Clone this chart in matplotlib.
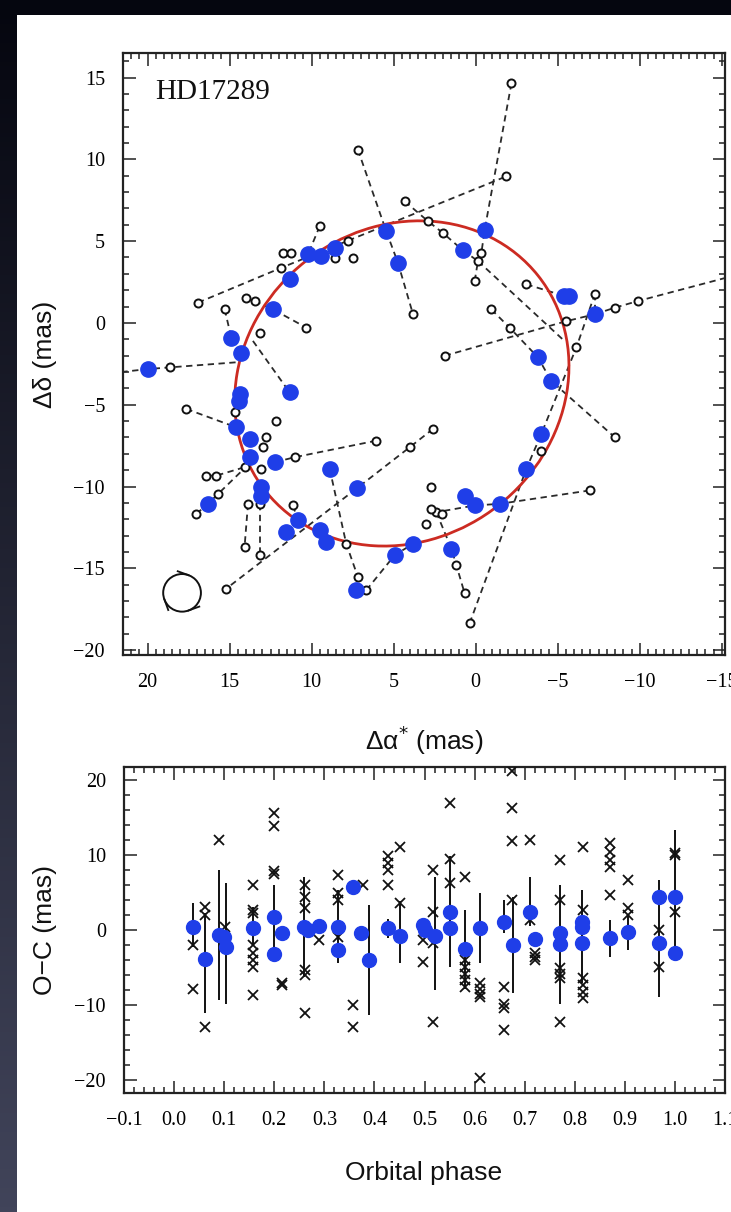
'''Astrometric orbit of HD17289 with O-C residuals'''
import numpy as np
import matplotlib
matplotlib.use('Agg')
from matplotlib import pyplot as plt
from matplotlib.patches import Ellipse, Circle, Rectangle
from matplotlib.ticker import MultipleLocator, FuncFormatter

plt.rcParams['font.family'] = ['Liberation Serif', 'DejaVu Serif']
plt.rcParams['axes.unicode_minus'] = True

'''Top panel: orbit on the sky (mas)'''
blue_x = [5.45, 4.74, 10.22, 9.41, 8.6, 11.34, 12.36, 14.9, -0.55, 0.77, -5.4, -5.7,
          -7.26, 19.98, 14.29, 11.34, 14.39, 14.4, 14.6, 13.78, 13.78, 12.26, 8.9, 7.23,
          13.07, 13.07, 16.32, 10.83, 11.54, 9.51, 9.1, 4.94, 3.82, 7.28, -3.8, -4.6,
          -4.0, -3.09, 0.67, 0.06, -1.46, 1.48]
blue_y = [5.6, 3.68, 4.19, 4.09, 4.6, 2.66, 0.83, -0.9, 5.71, 4.43, 1.65, 1.65,
          0.53, -2.82, -1.81, -4.25, -4.35, -4.75, -6.38, -7.09, -8.17, -8.52, -8.92, -10.1,
          -10.04, -10.55, -11.06, -12.07, -12.79, -12.68, -13.4, -14.2, -13.5, -16.34, -2.11, -3.54,
          -6.79, -8.92, -10.55, -11.16, -11.06, -13.8]

open_x = [-2.18, -0.35, -0.14, 0.06, 16.93, 11.85, -1.87, 7.18, 3.82, 4.33, 2.91, 2.0,
          -3.09, -8.48, -9.9, -7.26, -0.95, -2.07, -8.48, 1.89, -5.5, 0.37, -6.14, 2.6,
          4.02, 15.2, 6.06, 11.04, 17.64, 18.66, 17.03, 15.7, 16.42, 15.8, 14.09, 13.88,
          14.09, 13.17, 13.17, 11.14, 7.89, 7.18, 6.67, 2.4, 2.75, 2.05, 1.18, 0.67,
          -6.95, 9.51, 13.48, 13.98, 10.32, 15.3, 11.75, 11.24, 8.6, 7.48, 7.79, 13.17,
          2.7, 3.0, -4.0, 14.7, 12.97, 12.76, 13.07, 12.15]
open_y = [14.65, 4.29, 3.78, 2.56, 1.24, 3.37, 8.96, 10.59, 0.53, 7.44, 6.22, 5.5,
          2.36, 0.93, 1.34, 1.75, 0.83, -0.29, -6.99, -2.01, 0.1, -18.37, -1.5, -6.48,
          -7.6, -16.24, -7.2, -8.21, -5.26, -2.72, -11.67, -10.45, -9.33, -9.33, -8.82, -11.06,
          -13.7, -11.06, -14.2, -11.16, -13.5, -15.53, -16.34, -11.57, -11.4, -11.7, -14.8, -16.54,
          -10.24, 5.91, 1.34, 1.54, -0.29, 0.83, 4.29, 4.29, 3.98, 3.98, 5.0, -0.59,
          -10.04, -12.3, -7.8, -5.47, -7.6, -7.0, -8.92, -5.98]

# dashed scan lines joining the individual measurements
scan_x = [[-2.18, -0.55, -0.35, -0.14, 0.06],
          [16.93, 11.85, -1.87],
          [7.18, 5.45, 4.74, 3.82],
          [4.33, 2.91, 2.0, 0.77, -0.14],
          [-0.14, -5.3],
          [-7.26, -8.48, -9.9, -15.6],
          [-3.09, -5.4],
          [-7.26, -7.26],
          [-0.95, -2.07, -3.8, -4.6, -8.48],
          [1.89, -5.5, -7.26],
          [0.37, -3.09, -4.0, -6.14, -7.26],
          [2.6, 4.02, 7.23, 15.2],
          [6.06, 11.04, 12.26],
          [17.64, 14.6],
          [21.6, 19.98, 18.66, 14.5],
          [13.58, 11.34],
          [17.03, 16.32, 15.7, 13.9],
          [16.42, 15.8, 14.09],
          [13.88, 14.09],
          [13.17, 13.17],
          [11.14, 10.83],
          [8.9, 7.89, 7.18, 7.28],
          [6.67, 4.94, 3.82],
          [2.4, 1.48, 1.18, 0.67],
          [-6.95, -1.46, 0.06, 2.4],
          [9.51, 10.22],
          [13.48, 12.36, 10.32],
          [15.3, 14.9]]
scan_y = [[14.65, 5.71, 4.29, 3.78, 2.56],
          [1.24, 3.37, 8.96],
          [10.59, 5.6, 3.68, 0.53],
          [7.44, 6.22, 5.5, 4.43, 3.78],
          [3.78, -1.0],
          [0.53, 0.93, 1.34, 2.85],
          [2.36, 1.65],
          [1.75, 0.53],
          [0.83, -0.29, -2.11, -3.54, -6.99],
          [-2.01, 0.1, 0.53],
          [-18.37, -8.92, -6.79, -1.5, 1.75],
          [-6.48, -7.6, -10.1, -16.24],
          [-7.2, -8.21, -8.52],
          [-5.26, -6.38],
          [-3.0, -2.82, -2.72, -2.4],
          [-1.1, -4.25],
          [-11.67, -11.06, -10.45, -8.7],
          [-9.33, -9.33, -8.82],
          [-11.06, -13.7],
          [-11.06, -14.2],
          [-11.16, -12.07],
          [-8.92, -13.5, -15.53, -16.34],
          [-16.34, -14.2, -13.5],
          [-11.57, -13.8, -14.8, -16.54],
          [-10.24, -11.06, -11.16, -11.57],
          [5.91, 4.19],
          [1.34, 0.83, -0.29],
          [0.83, -0.9]]

# fitted orbit: centre, full axes, position angle
orbit_centre = (4.5, -3.7)
orbit_axes = (21.2, 19.0)
orbit_angle = -38.5

'''Bottom panel: residuals versus orbital phase'''
blue_phase = [0.037, 0.062, 0.09, 0.10, 0.104, 0.158, 0.2, 0.215, 0.2, 0.26, 0.267, 0.29,
              0.327, 0.327, 0.357, 0.373, 0.389, 0.427, 0.452, 0.497, 0.5, 0.52, 0.551, 0.551,
              0.581, 0.611, 0.658, 0.677, 0.71, 0.72, 0.77, 0.77, 0.815, 0.815, 0.815, 0.871,
              0.907, 0.969, 0.969, 1.0, 1.0]
blue_oc = [0.44, -3.9, -0.67, -0.9, -2.2, 0.22, 1.69, -0.44, -3.2, 0.44, 0.0, 0.53,
           0.44, -2.67, 5.78, -0.44, -4.0, 0.22, -0.8, 0.67, 0.0, -0.8, 2.36, 0.31,
           -2.58, 0.22, 1.11, -2.0, 2.36, -1.2, -0.44, -1.87, 1.1, 0.44, -1.78, -1.1,
           -0.22, 4.44, -1.78, 4.44, -3.02]

err_phase = [0.037, 0.062, 0.09, 0.104, 0.158, 0.2, 0.26, 0.327, 0.389, 0.427, 0.452, 0.52,
             0.551, 0.581, 0.611, 0.658, 0.677, 0.71, 0.77, 0.815, 0.871, 0.907, 0.969, 1.0]
err_lo = [-2.2, -11.1, -9.3, -9.8, -2.0, -3.8, -6.2, -4.4, -11.3, -1.0, -4.4, -8.0,
          -4.9, -7.8, -4.4, -0.4, -8.4, 0.5, -9.8, -7.1, -3.6, -2.7, -8.9, -3.0]
err_hi = [3.6, 2.2, 8.0, 6.2, 3.0, 6.0, 7.1, 5.3, 3.3, 1.5, 3.8, 7.1,
          9.8, 2.7, 4.9, 4.0, 4.4, 7.1, 6.0, 5.3, 1.3, 1.8, 6.7, 13.3]

x_phase = [0.037, 0.037, 0.062, 0.062, 0.062, 0.089, 0.102,
           0.158, 0.158, 0.158, 0.158, 0.158, 0.158, 0.158, 0.158,
           0.2, 0.2, 0.2, 0.2, 0.215, 0.215,
           0.262, 0.262, 0.262, 0.262, 0.262, 0.262, 0.29,
           0.327, 0.327, 0.327, 0.327, 0.357, 0.357, 0.377,
           0.427, 0.427, 0.427, 0.427, 0.452, 0.452, 0.497, 0.497,
           0.517, 0.517, 0.517, 0.517, 0.551, 0.551, 0.551,
           0.58, 0.58, 0.58, 0.58, 0.58, 0.58,
           0.611, 0.611, 0.611, 0.611, 0.611,
           0.658, 0.658, 0.658, 0.658, 0.675, 0.675, 0.675, 0.675,
           0.71, 0.71, 0.72, 0.72, 0.72,
           0.77, 0.77, 0.77, 0.77, 0.77, 0.77,
           0.817, 0.817, 0.817, 0.817, 0.817, 0.817,
           0.871, 0.871, 0.871, 0.871, 0.871, 0.907, 0.907, 0.907,
           0.969, 0.969, 1.0, 1.0, 1.0]
x_oc = [-2.0, -7.8, 3.1, 2.0, -12.9, 12.0, 0.44,
        6.0, 2.67, 2.2, -2.0, -3.1, -4.0, -4.9, -8.67,
        15.6, 13.8, 7.8, 7.5, -7.3, -7.0,
        6.0, 4.4, 2.9, -5.3, -6.0, -11.1, -1.3,
        7.3, 4.9, 4.0, -0.9, -10.0, -12.9, 6.0,
        9.8, 8.9, 8.0, 6.0, 11.1, 3.56, -4.2, -1.3,
        8.0, 2.4, -1.67, -12.2, 16.9, 9.4, 6.3,
        7.1, -4.0, -4.9, -5.8, -6.7, -7.6,
        -7.1, -7.8, -8.5, -8.9, -19.7,
        -7.6, -9.9, -10.4, -13.3, 21.2, 16.2, 11.8, 4.0,
        12.0, 1.3, -3.1, -3.6, -4.0,
        9.3, 4.0, -5.1, -5.8, -6.4, -12.2,
        11.1, 2.67, -6.4, -7.3, -8.2, -9.1,
        11.6, 10.4, 9.3, 8.4, 4.67, 6.67, 2.9, 2.0,
        0.0, -4.9, 10.0, 10.2, 2.4]

BLUE = '#1f3ee8'
RED = '#cc2b22'
W, H = 731, 1212

fig = plt.figure(figsize=(W / 100, H / 100), dpi=100)

# slide background: dark gradient with the white figure page on top
bg = fig.add_axes([0, 0, 1, 1], zorder=-10)
grad = np.linspace(0, 1, 256)[:, None]
bg.imshow(grad, cmap=matplotlib.colors.LinearSegmentedColormap.from_list(
    'slide', ['#05060f', '#41445a']), extent=[0, 1, 0, 1], aspect='auto')
bg.add_patch(Rectangle((17 / W, 0), 1, 1 - 15 / H, facecolor='white', edgecolor='none'))
bg.set_xlim(0, 1)
bg.set_ylim(0, 1)
bg.axis('off')


def style_axes(ax):
    ax.tick_params(which='both', direction='in', top=True, right=True,
                   labelsize=14.5, pad=13, width=1.1, color='#222222')
    ax.tick_params(which='major', length=9)
    ax.tick_params(which='minor', length=4.5)
    for s in ax.spines.values():
        s.set_linewidth(1.6)
        s.set_color('#222222')


def fmt_minus(decimals):
    return FuncFormatter(lambda v, p: ('%.*f' % (decimals, v)).replace('-', '\u2212'))


'''Orbit panel'''
ax1 = fig.add_axes([123 / W, 1 - 655 / H, 602 / W, 602 / H])
for xs, ys in zip(scan_x, scan_y):
    ax1.plot(xs, ys, ls=(0, (3.5, 2.5)), color='#2a2a2a', lw=1.3, zorder=2)
ax1.add_patch(Ellipse(orbit_centre, orbit_axes[0], orbit_axes[1], angle=orbit_angle,
                      fill=False, edgecolor=RED, lw=2.0, zorder=3))
ax1.plot(open_x, open_y, 'o', ms=5.8, mfc='white', mec='#111111', mew=1.4, zorder=4)
ax1.plot(blue_x, blue_y, 'o', ms=11, color=BLUE, mec=BLUE, zorder=5)

# sense-of-motion glyph
gx, gy, gr = 17.9, -16.5, 1.15
ax1.add_patch(Circle((gx, gy), gr, fill=False, edgecolor='#111111', lw=1.4, zorder=4))
for phi in (70, 200, 290):
    t = np.radians(phi)
    px, py = gx - gr * np.cos(t), gy + gr * np.sin(t)
    tx, ty = np.sin(t), np.cos(t)
    ax1.plot([px, px + 0.7 * tx], [py, py + 0.7 * ty], color='#111111', lw=1.3, zorder=4)

ax1.set_xlim(21.5, -15.2)
ax1.set_ylim(-20.3, 16.5)
ax1.xaxis.set_major_locator(MultipleLocator(5))
ax1.xaxis.set_minor_locator(MultipleLocator(0.5))
ax1.yaxis.set_major_locator(MultipleLocator(5))
ax1.yaxis.set_minor_locator(MultipleLocator(1))
ax1.xaxis.set_major_formatter(fmt_minus(0))
ax1.yaxis.set_major_formatter(fmt_minus(0))
style_axes(ax1)
ax1.text(0.053, 0.935, 'HD17289', transform=ax1.transAxes, ha='left', va='center',
         fontsize=21, color='#111111')

'''Residual panel'''
ax2 = fig.add_axes([124 / W, 1 - 1093 / H, 601 / W, 326 / H])
ax2.vlines(err_phase, err_lo, err_hi, color='#111111', lw=1.4, zorder=2)
ax2.plot(x_phase, x_oc, 'x', color='#111111', ms=7, mew=1.3, zorder=3)
ax2.plot(blue_phase, blue_oc, 'o', ms=10, color=BLUE, mec=BLUE, zorder=4)
ax2.set_xlim(-0.1, 1.1)
ax2.set_ylim(-21.7, 21.7)
ax2.xaxis.set_major_locator(MultipleLocator(0.1))
ax2.xaxis.set_minor_locator(MultipleLocator(0.02))
ax2.yaxis.set_major_locator(MultipleLocator(10))
ax2.yaxis.set_minor_locator(MultipleLocator(2))
ax2.xaxis.set_major_formatter(fmt_minus(1))
ax2.yaxis.set_major_formatter(fmt_minus(0))
style_axes(ax2)

'''Axis labels (sans serif, as in the original)'''
lab = dict(family=['Liberation Sans', 'DejaVu Sans'], fontsize=19, color='#111111',
           ha='center', va='center')
fig.text(45 / W, 1 - 354 / H, '\u0394\u03b4 (mas)', rotation=90, **lab)
fig.text(424 / W, 1 - 740 / H, '\u0394\u03b1$^{*}$ (mas)', **lab)
fig.text(45 / W, 1 - 930 / H, 'O\u2212C (mas)', rotation=90, **lab)
fig.text(424 / W, 1 - 1173 / H, 'Orbital phase', **lab)

fig.savefig('out.png', dpi=100)
